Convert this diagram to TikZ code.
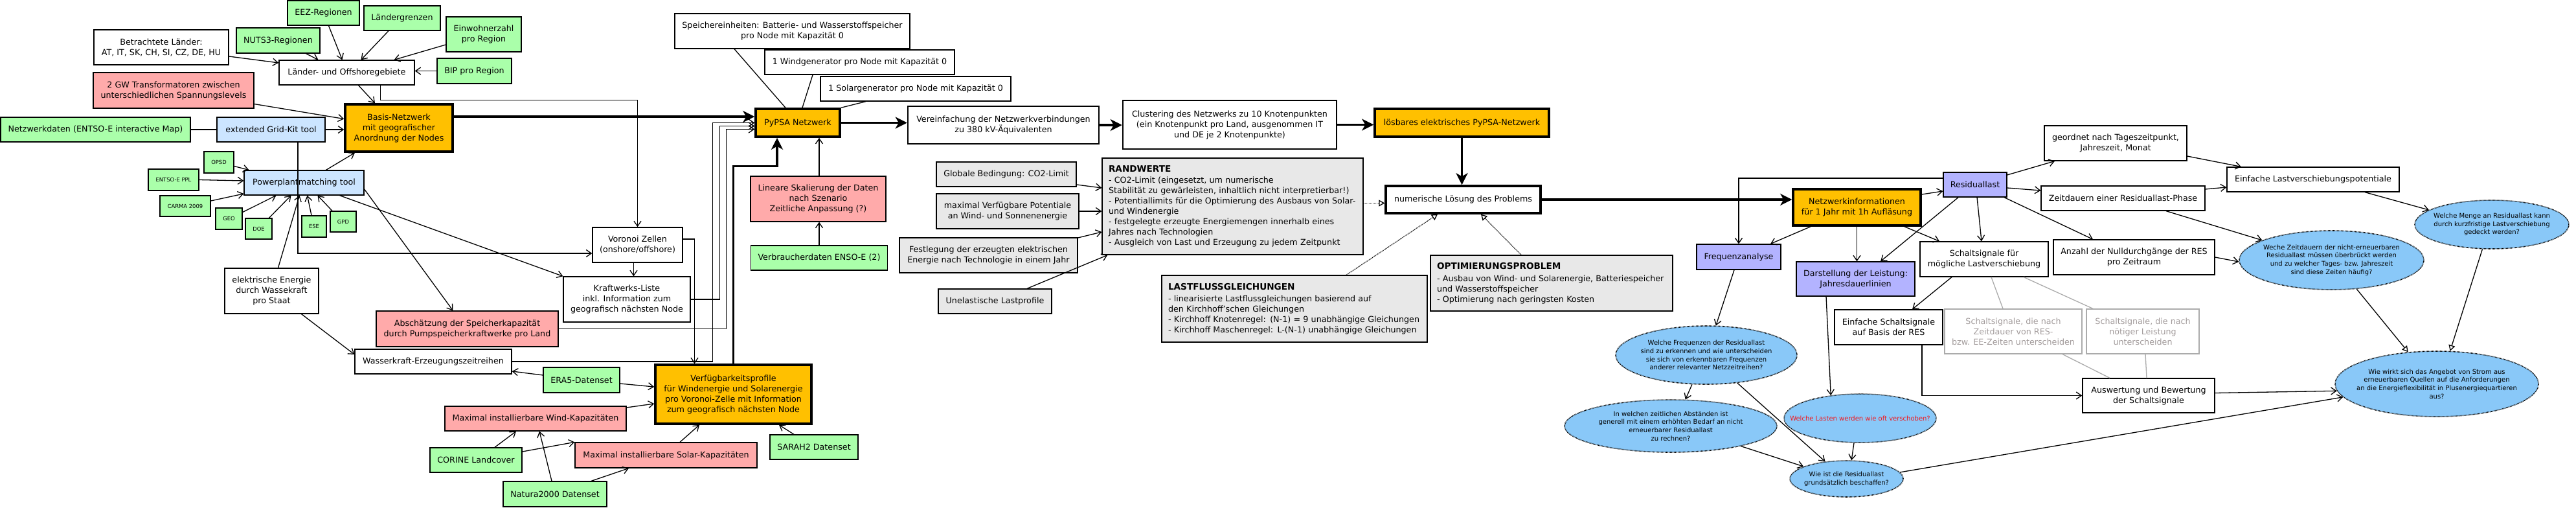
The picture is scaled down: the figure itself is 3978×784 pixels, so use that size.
\documentclass[tikz,border=0pt]{standalone}
\usepackage{fontspec}
\setmainfont{DejaVu Sans}
\usetikzlibrary{arrows.meta,shapes.geometric}

\definecolor{grn}{HTML}{AAFFAA}
\definecolor{pnk}{HTML}{FFAAAA}
\definecolor{lblue}{HTML}{CCE5FF}
\definecolor{orng}{HTML}{FFC000}
\definecolor{gry}{HTML}{E8E8E8}
\definecolor{lila}{HTML}{B3B3FF}
\definecolor{qblue}{HTML}{89C8F8}
\definecolor{fadeline}{HTML}{ABABAB}
\definecolor{fadetext}{HTML}{A39C9C}
\definecolor{warnred}{HTML}{F2161B}

\newcommand{\notetitle}[1]{{\fontsize{13.6}{16}\selectfont\bfseries #1}}

\tikzset{
  box/.style={draw, line width=1.3pt, align=center, inner sep=1pt,
    font=\fontsize{12.7}{16}\selectfont},
  wh/.style 2 args={minimum width=#1pt, minimum height=#2pt},
  datbox/.style={box, fill=grn},
  tinybox/.style={datbox, font=\fontsize{8.4}{10}\selectfont},
  toolbox/.style={box, fill=lblue},
  todobox/.style={box, fill=pnk},
  mainbox/.style={box, fill=orng, line width=3.5pt},
  boldbox/.style={box, line width=3.5pt},
  midbox/.style={box, line width=2.5pt},
  infobox/.style={box, fill=gry},
  notebox/.style={box, fill=gry, align=left, inner xsep=10pt, inner ysep=4pt},
  anabox/.style={box, fill=lila},
  fadebox/.style={box, draw=fadeline, text=fadetext},
  question/.style={ellipse, draw, fill=qblue, line width=1.6pt,
    dash pattern=on 1pt off 1pt, align=center, inner xsep=-40pt, inner ysep=0pt,
    font=\fontsize{10}{12.6}\selectfont},
  conn/.style={-{Straight Barb[length=8pt,width=11pt]}, line width=1.3pt},
  link/.style={line width=1.3pt},
  fadelink/.style={line width=1.3pt, draw=fadeline},
  bigconn/.style={-{Stealth[length=18pt,width=18pt,inset=5pt]}, line width=3.2pt},
  hint/.style={-{Triangle[open,length=9pt,width=10pt]}, line width=1.3pt,
    dash pattern=on 1pt off 1pt},
  solidhint/.style={-{Triangle[open,length=9pt,width=10pt]}, line width=1.3pt},
}

\begin{document}
\begin{tikzpicture}[x=1pt,y=-1pt]
\fill[white] (0,0) rectangle (3978,784);
\useasboundingbox (0,0) rectangle (3978,784);

% Nodes: Basis-Netzwerk
\node[datbox, wh={111}{38}] (eez) at (499.5,20) {EEZ-Regionen};
\node[datbox, wh={118}{38}] (grenzen) at (621,28) {Ländergrenzen};
\node[datbox, wh={116}{54}] (einwohner) at (747,53) {Einwohnerzahl\\pro Region};
\node[datbox, wh={129}{39}] (nuts) at (429.5,62.5) {NUTS3-Regionen};
\node[box, wh={208}{54}] (laender) at (249,73) {Betrachtete Länder:\\AT, IT, SK, CH, SI, CZ, DE, HU};
\node[box, wh={209}{38}] (gebiete) at (535.5,112) {Länder- und Offshoregebiete};
\node[datbox, wh={115}{39}] (bip) at (732.5,109.5) {BIP pro Region};
\node[todobox, wh={248}{55}] (trafo) at (268,139.5) {2 GW Transformatoren zwischen\\unterschiedlichen Spannungslevels};
\node[datbox, wh={293}{38}] (netzdaten) at (147.5,200) {Netzwerkdaten (ENTSO-E interactive Map)};
\node[toolbox, wh={167}{38}] (gridkit) at (418.5,200) {extended Grid-Kit tool};
\node[mainbox, wh={166}{73}] (basis) at (616,197.5) {Basis-Netzwerk\\mit geografischer\\Anordnung der Nodes};
\node[tinybox, wh={46}{33}] (opsd) at (338,250.5) {OPSD};
\node[tinybox, wh={78}{33}] (ppl) at (268,277.5) {ENTSO-E PPL};
\node[tinybox, wh={78}{32}] (carma) at (286,318) {CARMA 2009};
\node[tinybox, wh={41}{33}] (geo) at (353.5,337.5) {GEO};
\node[tinybox, wh={41}{32}] (doe) at (399.5,353) {DOE};
\node[tinybox, wh={38}{33}] (ese) at (485,349.5) {ESE};
\node[tinybox, wh={40}{32}] (gpd) at (530,342) {GPD};
\node[toolbox, wh={185}{38}] (ppm) at (469.5,282) {Powerplantmatching tool};
\node[box, wh={145}{70}] (wasser) at (419.5,449) {elektrische Energie\\durch Wassekraft\\pro Staat};
\node[todobox, wh={281}{55}] (pumpsp) at (721.5,507.5) {Abschätzung der Speicherkapazität\\durch Pumpspeicherkraftwerke pro Land};
\node[box, wh={242}{38}] (zeitreihen) at (669,558) {Wasserkraft-Erzeugungszeitreihen};
\node[box, wh={139}{54}] (voronoi) at (984.5,378) {Voronoi Zellen\\(onshore/offshore)};
\node[box, wh={196}{70}] (kwliste) at (968,462) {Kraftwerks-Liste\\inkl. Information zum\\geografisch nächsten Node};
\node[datbox, wh={118}{39}] (era5) at (898,586.5) {ERA5-Datenset};
\node[mainbox, wh={241}{91}] (verfueg) at (1132.5,608.5) {Verfügbarkeitsprofile\\für Windenergie und Solarenergie\\pro Voronoi-Zelle mit Information\\zum geografisch nächsten Node};
\node[todobox, wh={280}{38}] (maxwind) at (827,646) {Maximal installierbare Wind-Kapazitäten};
\node[datbox, wh={142}{38}] (corine) at (735,710) {CORINE Landcover};
\node[todobox, wh={281}{39}] (maxsolar) at (1028.5,702.5) {Maximal installierbare Solar-Kapazitäten};
\node[datbox, wh={136}{38}] (sarah) at (1257,690) {SARAH2 Datenset};
\node[datbox, wh={160}{39}] (natura) at (857,762.5) {Natura2000 Datenset};

% Nodes: PyPSA und Optimierung
\node[mainbox, wh={130}{43}] (pypsa) at (1232,189.5) {PyPSA Netzwerk};
\node[box, wh={363}{54}] (speicher) at (1223.5,48) {Speichereinheiten: Batterie- und Wasserstoffspeicher\\pro Node mit Kapazität 0};
\node[box, wh={293}{38}] (windgen) at (1327.5,96) {1 Windgenerator pro Node mit Kapazität 0};
\node[box, wh={294}{38}] (solargen) at (1414,137) {1 Solargenerator pro Node mit Kapazität 0};
\node[todobox, wh={209}{70}] (skalierung) at (1263.5,307) {Lineare Skalierung der Daten\\nach Szenario\\Zeitliche Anpassung (?)};
\node[datbox, wh={211}{38}] (verbraucher) at (1265,398) {Verbraucherdaten ENSO-E (2)};
\node[midbox, wh={295}{58}] (vereinf) at (1549.5,193) {Vereinfachung der Netzwerkverbindungen\\zu 380 kV-Äquivalenten};
\node[midbox, wh={330}{75}] (cluster) at (1899,192.5) {Clustering des Netzwerks zu 10 Knotenpunkten\\(ein Knotenpunkt pro Land, ausgenommen IT\\und DE je 2 Knotenpunkte)};
\node[mainbox, wh={269}{43}] (loesbar) at (2257.5,189.5) {lösbares elektrisches PyPSA-Netzwerk};
\node[boldbox, wh={239}{42}] (numerisch) at (2259.5,308) {numerische Lösung des Problems};
\node[infobox, wh={216}{38}] (co2) at (1554,269) {Globale Bedingung: CO2-Limit};
\node[infobox, wh={220}{54}] (potentiale) at (1556,326) {maximal Verfügbare Potentiale\\an Wind- und Sonnenenergie};
\node[infobox, wh={275}{54}] (festlegung) at (1526.5,394) {Festlegung der erzeugten elektrischen\\Energie nach Technologie in einem Jahr};
\node[infobox, wh={175}{38}] (lastprofile) at (1536.5,465) {Unelastische Lastprofile};
\node[notebox, text width=383pt, minimum height=149pt] (randwerte) at (1903.5,318.5) {\notetitle{RANDWERTE}\\[1pt]
  - CO2-Limit (eingesetzt, um numerische\\
  Stabilität zu gewärleisten, inhaltlich nicht interpretierbar!)\\
  - Potentiallimits für die Optimierung des Ausbaus von Solar-\\
  und Windenergie\\
  - festgelegte erzeugte Energiemengen innerhalb eines\\
  Jahres nach Technologien\\
  - Ausgleich von Last und Erzeugung zu jedem Zeitpunkt};
\node[notebox, text width=390pt, minimum height=103pt] (lastfluss) at (1999,476.5) {\notetitle{LASTFLUSSGLEICHUNGEN}\\[2pt]
  - linearisierte Lastflussgleichungen basierend auf\\
  den Kirchhoff'schen Gleichungen\\
  - Kirchhoff Knotenregel: (N-1) = 9 unabhängige Gleichungen\\
  - Kirchhoff Maschenregel: L-(N-1) unabhängige Gleichungen};
\node[notebox, text width=354pt, minimum height=86pt] (optim) at (2396,437) {\notetitle{OPTIMIERUNGSPROBLEM}\\[3pt]
  - Ausbau von Wind- und Solarenergie, Batteriespeicher\\
  und Wasserstoffspeicher\\
  - Optimierung nach geringsten Kosten};

% Nodes: Auswertung
\node[mainbox, wh={197}{56}] (netzinfo) at (2867.5,320) {Netzwerkinformationen\\für 1 Jahr mit 1h Aufläsung};
\node[anabox, wh={98}{38}] (residual) at (3050,285) {Residuallast};
\node[box, wh={220}{54}] (geordnet) at (3267,221) {geordnet nach Tageszeitpunkt,\\Jahreszeit, Monat};
\node[box, wh={253}{38}] (zeitdauern) at (3278.5,306) {Zeitdauern einer Residuallast-Phase};
\node[box, wh={249}{54}] (anzahl) at (3295.5,397) {Anzahl der Nulldurchgänge der RES\\pro Zeitraum};
\node[anabox, wh={130}{39}] (freq) at (2685,396.5) {Frequenzanalyse};
\node[anabox, wh={183}{53}] (darstellung) at (2865.5,430.5) {Darstellung der Leistung:\\Jahresdauerlinien};
\node[box, wh={198}{54}] (schalt) at (3064,400) {Schaltsignale für\\mögliche Lastverschiebung};
\node[box, wh={167}{54}] (einfschalt) at (2916.5,505) {Einfache Schaltsignale\\auf Basis der RES};
\node[fadebox, wh={212}{69}] (schaltzeit) at (3109,511.5) {Schaltsignale, die nach\\Zeitdauer von RES-\\bzw. EE-Zeiten unterscheiden};
\node[fadebox, wh={174}{69}] (schaltleist) at (3309,511.5) {Schaltsignale, die nach\\nötiger Leistung\\unterscheiden};
\node[box, wh={204}{53}] (auswertung) at (3318,610.5) {Auswertung und Bewertung\\der Schaltsignale};
\node[box, wh={266}{38}] (lastpot) at (3572,277) {Einfache Lastverschiebungspotentiale};
\node[question, wh={280}{90}] (qfreq) at (2635,548) {Welche Frequenzen der Residuallast\\sind zu erkennen und wie unterscheiden\\sie sich von erkennbaren Frequenzen\\anderer relevanter Netzzeitreihen?};
\node[question, wh={328}{81}] (qabst) at (2580,657.5) {In welchen zeitlichen Abständen ist\\generell mit einem erhöhten Bedarf an nicht\\erneuerbarer Residuallast\\zu rechnen?};
\node[question, wh={235}{75}, text=warnred] (qlasten) at (2872.5,645.5) {Welche Lasten werden wie oft verschoben?};
\node[question, wh={175}{56}] (qbeschaffen) at (2851.5,739) {Wie ist die Residuallast\\grundsätzlich beschaffen?};
\node[question, wh={238}{75}] (qmenge) at (3848,346.5) {Welche Menge an Residuallast kann\\durch kurzfristige Lastverschiebung\\gedeckt werden?};
\node[question, wh={285}{91}] (qzeit) at (3600.5,401.5) {Weche Zeitdauern der nicht-erneuerbaren\\Residuallast müssen überbrückt werden\\und zu welcher Tages- bzw. Jahreszeit\\sind diese Zeiten häufig?};
\node[question, wh={314}{101}] (qwirkt) at (3763,592.5) {Wie wirkt sich das Angebot von Strom aus\\erneuerbaren Quellen auf die Anforderungen\\an die Energieflexibilität in Plusenergiequartieren\\aus?};

% Edges: Basis-Netzwerk
\draw[conn] ([yshift=-14pt]laender.east) -- ([yshift=15pt]gebiete.west);
\draw[conn] ([xshift=43pt]nuts.south) -- ([xshift=-44pt]gebiete.north);
\draw[conn] ([xshift=8pt]eez.south) -- ([xshift=-7pt]gebiete.north);
\draw[conn] ([xshift=-21pt]grenzen.south) -- ([xshift=22pt]gebiete.north);
\draw[conn] ([yshift=-16pt]einwohner.west) -- ([xshift=73pt]gebiete.north);
\draw[conn] (bip.west) -- (bip.west -| gebiete.east);
\draw[conn] ([xshift=18pt]gebiete.south) -- ([xshift=-37pt]basis.north);
\draw[conn] ([xshift=52pt]gebiete.south) |- ([yshift=196pt]voronoi.north) -- (voronoi.north);
\draw[conn] ([yshift=-21pt]trafo.east) -- ([yshift=14pt]basis.west);
\draw[link] (netzdaten) -- (gridkit);
\draw[conn] (gridkit.east) -- (gridkit.east -| basis.west);
\draw[conn] ([xshift=41.5pt]gridkit.south) |- ([yshift=-13pt]voronoi.west);
\draw[conn] ([yshift=-6pt]opsd.east) -- ([xshift=-85pt]ppm.north);
\draw[conn] (ppl.east) -- ([yshift=3pt]ppm.west);
\draw[conn] ([yshift=8pt]carma.east) -- ([yshift=-17pt]ppm.west);
\draw[conn] ([yshift=10pt]geo.east) -- ([xshift=-43pt]ppm.south);
\draw[conn] ([xshift=16pt]doe.north) -- ([xshift=-20pt]ppm.south);
\draw[conn] ([xshift=10pt]wasser.north) -- ([xshift=-7pt]ppm.south);
\draw[conn] ([xshift=-4pt]ese.north) -- ([xshift=5pt]ppm.south);
\draw[conn] ([xshift=-17pt]gpd.north) -- ([xshift=21pt]ppm.south);
\draw[conn] ([xshift=34pt]ppm.north) -- ([xshift=-68pt]basis.south);
\draw[conn] ([yshift=-10pt]ppm.east) -- ([xshift=-22pt]pumpsp.north);
\draw[conn] ([xshift=55pt]ppm.south) -- (kwliste.north west);
\draw[conn] ([xshift=46pt]wasser.south) -- ([yshift=11pt]zeitreihen.west);
\draw[conn] ([xshift=-6pt]voronoi.south) -- ([xshift=-6pt]voronoi.south |- kwliste.north);
\draw[conn] ([yshift=9pt]voronoi.east) -| ([xshift=-60pt]verfueg.north);
\draw[conn] ([yshift=7.5pt]era5.west) -- ([yshift=-15pt]zeitreihen.east);
\draw[conn] ([yshift=-5.5pt]era5.east) -- ([yshift=11.5pt]verfueg.west);
\draw[conn] ([yshift=17pt]maxwind.east) -- ([yshift=-14.5pt]verfueg.west);
\draw[conn] ([xshift=29pt]corine.north) -- ([xshift=-30pt]maxwind.south);
\draw[conn] ([yshift=13pt]corine.east) -- (maxsolar.north west);
\draw[conn] ([xshift=-5pt]natura.north) -- ([xshift=6pt]maxwind.south);
\draw[conn] ([xshift=56pt]natura.north) -- ([xshift=-57.5pt]maxsolar.south);
\draw[conn] ([xshift=21.5pt]maxsolar.north) -- ([xshift=-52.5pt]verfueg.south);
\draw[conn] ([xshift=-31pt]sarah.north) -- ([xshift=70.5pt]verfueg.south);

% Edges: PyPSA und Optimierung
\draw[conn] (zeitreihen.east) -| ([xshift=-65pt]pypsa.west) -- (pypsa.west);
\draw[conn] (kwliste.east) -| ([xshift=-54pt,yshift=-5pt]pypsa.west) -- ([yshift=-5pt]pypsa.west);
\draw[conn] (pumpsp.east) -| ([xshift=-44pt,yshift=-10pt]pypsa.west) -- ([yshift=-10pt]pypsa.west);
\draw[bigconn] (verfueg.north) |- ([xshift=-32pt,yshift=-44pt]pypsa.south) -- ([xshift=-32pt]pypsa.south);
\draw[bigconn] ([yshift=17.5pt]basis.east) -- ([yshift=17.5pt]basis.east -| pypsa.west);
\draw[link] ([xshift=-89.5pt]speicher.south) -- ([xshift=-19pt]pypsa.north);
\draw[link] ([xshift=-72.5pt]windgen.south) -- ([xshift=7pt]pypsa.north);
\draw[link] ([xshift=-77pt]solargen.south) -- (pypsa.north east);
\draw[conn] ([xshift=1.5pt]skalierung.north) -- ([xshift=1.5pt]skalierung.north |- pypsa.south);
\draw[conn] (verbraucher.north) -- (verbraucher.north |- skalierung.south);
\draw[bigconn] (pypsa.east) -- (pypsa.east -| vereinf.west);
\draw[bigconn] (vereinf.east) -- (vereinf.east -| cluster.west);
\draw[bigconn] (cluster.east) -- (cluster.east -| loesbar.west);
\draw[bigconn] (loesbar.south) -- (loesbar.south |- numerisch.north);
\draw[conn] ([yshift=-16pt]co2.east) -- ([yshift=28.5pt]randwerte.west);
\draw[conn] (potentiale.east) -- (potentiale.east -| randwerte.west);
\draw[conn] ([yshift=27pt]festlegung.east) -- ([yshift=-39.5pt]randwerte.west);
\draw[conn] ([xshift=49.5pt]lastprofile.north) -- ([xshift=9pt]randwerte.south west);
\draw[hint] ([yshift=5pt]randwerte.east) -- ([yshift=5pt]randwerte.east -| numerisch.west);
\draw[hint] ([xshift=80pt]lastfluss.north) -- ([xshift=-39.5pt]numerisch.south);
\draw[hint] ([xshift=-47pt]optim.north) -- ([xshift=27.5pt]numerisch.south);
\draw[bigconn] (numerisch.east) -- (numerisch.east -| netzinfo.west);

% Edges: Auswertung
\draw[conn] ([yshift=10pt]residual.west) -| (freq.north);
\draw[conn] ([yshift=20pt]netzinfo.east) -- ([yshift=-10pt]residual.west);
\draw[conn] ([xshift=-71.5pt]netzinfo.south) -- ([xshift=49pt]freq.north);
\draw[conn] (netzinfo.south) -- (netzinfo.south |- darstellung.north);
\draw[conn] ([xshift=73.5pt]netzinfo.south) -- ([xshift=-69pt]schalt.north);
\draw[conn] ([xshift=-26pt]residual.south) -- ([xshift=38.5pt]darstellung.north);
\draw[conn] ([xshift=3pt]residual.south) -- ([xshift=-4pt]schalt.north);
\draw[conn] ([xshift=45pt]residual.south) -- ([xshift=-63.5pt]anzahl.north);
\draw[conn] ([yshift=15pt]residual.east) -- ([xshift=-94pt]geordnet.south);
\draw[conn] ([yshift=-5pt]residual.east) -- ([yshift=12pt]zeitdauern.west);
\draw[conn] ([xshift=-7pt]freq.south) -- (qfreq.72);
\draw[conn] ([xshift=-45.5pt]darstellung.south) -- (qlasten.142);
\draw[conn] ([xshift=-50pt]schalt.south) -- ([xshift=36.5pt]einfschalt.north);
\draw[fadelink] ([xshift=11pt]schalt.south) -- ([xshift=-16pt]schaltzeit.north);
\draw[fadelink] ([xshift=61pt]schalt.south) -- ([xshift=-77pt]schaltleist.north);
\draw[conn] ([xshift=51.5pt]einfschalt.south) |- (auswertung.west);
\draw[fadelink] ([xshift=76pt]schaltzeit.south) -- ([xshift=-60pt]auswertung.north);
\draw[fadelink] ([xshift=4pt]schaltleist.south) -- ([xshift=-3pt]auswertung.north);
\draw[conn] (qfreq.244) -- (qabst.61);
\draw[conn] (qfreq.318) -- (qbeschaffen.141);
\draw[conn] (qabst.344) -- (qbeschaffen.164);
\draw[conn] (qlasten.256) -- (qbeschaffen.75);
\draw[conn] (qbeschaffen.7) -- (qwirkt.188);
\draw[conn] ([yshift=4pt]auswertung.east) -- (qwirkt.184);
\draw[conn] ([yshift=-20pt]geordnet.east) -- ([xshift=-111pt]lastpot.north);
\draw[conn] ([yshift=14pt]zeitdauern.east) -- ([yshift=-12pt]lastpot.west);
\draw[conn] ([xshift=66.5pt]zeitdauern.south) -- (qzeit.164);
\draw[conn] (anzahl.east) -- (qzeit.181);
\draw[conn] ([xshift=80pt]lastpot.south) -- (qmenge.167);
\draw[solidhint] (qzeit.311) -- (qwirkt.132);
\draw[solidhint] (qmenge.249) -- (qwirkt.68);
\end{tikzpicture}
\end{document}
